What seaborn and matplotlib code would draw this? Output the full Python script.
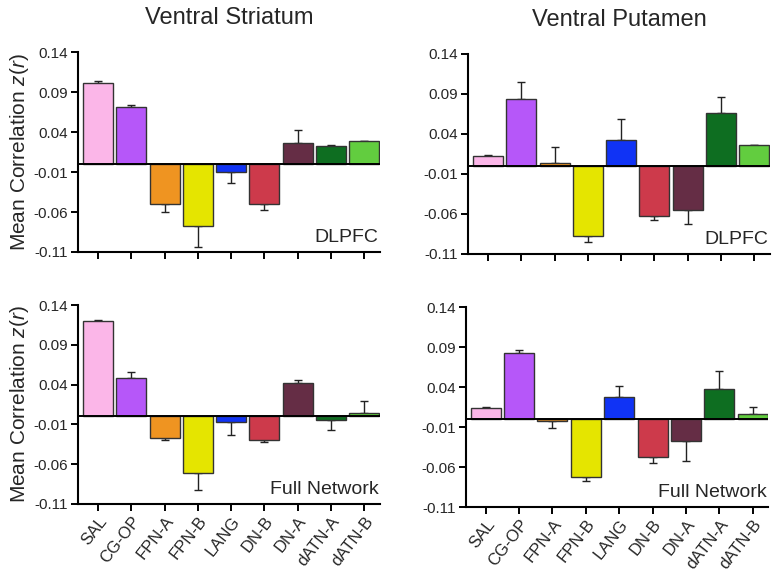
import matplotlib
matplotlib.use("Agg")
import matplotlib.pyplot as plt
import seaborn as sns
import pandas as pd
import numpy as np

categories = ["SAL", "CG-OP", "FPN-A", "FPN-B", "LANG", "DN-B", "DN-A", "dATN-A", "dATN-B"]
colors = ["#FBB6E8", "#B657F9", "#EF9421", "#E5E500", "#1033F5", "#CD3A4B", "#652D45", "#0E6E21", "#62CD3F"]

vs_dlpfc = [0.101, 0.072, -0.050, -0.078, -0.010, -0.050, 0.026, 0.023, 0.029]
vs_dlpfc_err = [0.003, 0.002, 0.010, 0.026, 0.014, 0.007, 0.017, 0.001, 0.0]
vp_dlpfc = [0.013, 0.084, 0.004, -0.087, 0.033, -0.062, -0.055, 0.066, 0.026]
vp_dlpfc_err = [0.0013, 0.021, 0.020, 0.008, 0.026, 0.005, 0.0175, 0.020, 0.0]
vs_full = [0.120, 0.048, -0.027, -0.071, -0.007, -0.029, 0.042, -0.004, 0.004]
vs_full_err = [0.0017, 0.008, 0.002, 0.022, 0.016, 0.003, 0.004, 0.013, 0.0155]
vp_full = [0.014, 0.083, -0.0025, -0.072, 0.028, -0.047, -0.028, 0.038, 0.0067]
vp_full_err = [0.0013, 0.003, 0.009, 0.006, 0.013, 0.0075, 0.024, 0.022, 0.008]

ytick_vals = [0.14, 0.09, 0.04, -0.01, -0.06, -0.11]
ytick_labels = ["0.14", "0.09", "0.04", "-0.01", "-0.06", "-0.11"]
col_titles = ["Ventral Striatum", "Ventral Putamen"]
row_labels = ["DLPFC", "Full Network"]

sns.set_style("white")
plt.rcParams['font.family'] = ['Liberation Sans', 'DejaVu Sans']
plt.rcParams['mathtext.fontset'] = 'custom'
plt.rcParams['mathtext.it'] = 'Liberation Sans:italic'
plt.rcParams['mathtext.rm'] = 'Liberation Sans'

fig = plt.figure(figsize=(7.8, 5.74), dpi=100)
positions = [
    [0.100, 0.561, 0.387, 0.348],
    [0.600, 0.5575, 0.387, 0.3485],
    [0.100, 0.122, 0.387, 0.3466],
    [0.597, 0.1167, 0.388, 0.3483],
]
panels = [
    (vs_dlpfc, vs_dlpfc_err),
    (vp_dlpfc, vp_dlpfc_err),
    (vs_full, vs_full_err),
    (vp_full, vp_full_err),
]
palette = dict(zip(categories, colors))

for i, (pos, (vals, errs)) in enumerate(zip(positions, panels)):
    ax = fig.add_axes(pos)
    df = pd.DataFrame({"network": categories, "value": vals})
    sns.barplot(data=df, x="network", y="value", hue="network", palette=palette,
                order=categories, hue_order=categories, legend=False, ax=ax,
                width=0.9, edgecolor="#333333", linewidth=1.0, saturation=1, zorder=3)
    v = np.array(vals)
    e = np.array(errs)
    lower = np.where(v < 0, e, 0)
    upper = np.where(v >= 0, e, 0)
    ax.errorbar(np.arange(len(categories)), v, yerr=[lower, upper], fmt="none",
                ecolor="#222222", elinewidth=1.0, capsize=3, capthick=1.0, zorder=2)
    ax.axhline(0, color="black", lw=1.4, zorder=4)
    ax.set_xlim(-0.6, 8.47)
    ax.set_ylim(-0.11, 0.14)
    ax.set_yticks(ytick_vals)
    ax.set_yticklabels(ytick_labels, fontsize=11)
    for s in ["top", "right"]:
        ax.spines[s].set_visible(False)
    for s in ["left", "bottom"]:
        ax.spines[s].set_linewidth(1.5)
        ax.spines[s].set_color("black")
    ax.tick_params(axis="both", direction="out", length=5, width=1.4, color="black",
                   left=True, bottom=True, pad=2)
    ax.set_xlabel("")
    ax.set_xticks(range(len(categories)))
    if i < 2:
        ax.set_xticklabels([])
        ax.set_title(col_titles[i], fontsize=17, pad=20)
    else:
        ax.set_xticklabels(categories, rotation=52, ha="right", rotation_mode="anchor",
                           fontsize=12)
    if i % 2 == 0:
        ax.set_ylabel("Mean Correlation $z$($r$)", fontsize=15, labelpad=2)
    else:
        ax.set_ylabel("")
    ax.text(0.995, 0.03, row_labels[i // 2], transform=ax.transAxes, ha="right",
            va="bottom", fontsize=14)

fig.savefig("out.png", dpi=100)
